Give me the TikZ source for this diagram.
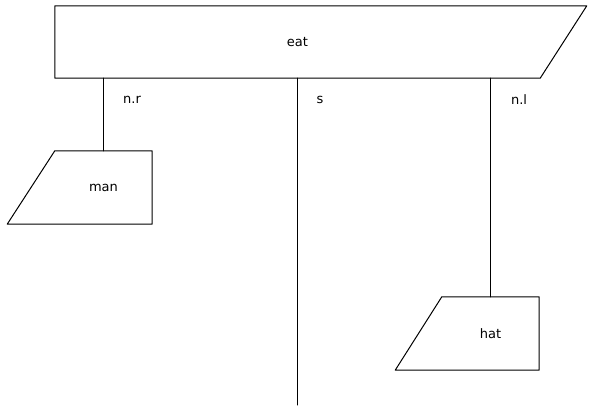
\documentclass[tikz,border=0pt]{standalone}
\usepackage{fontspec}
\setmainfont{DejaVu Sans}
\usetikzlibrary{positioning}

\begin{document}
\begin{tikzpicture}[line cap=round,line join=round,x=1pt,y=-1pt,
	box/.style={inner sep=0pt,minimum width=97pt,minimum height=73pt},
	lbl/.style={inner sep=0pt,font=\fontsize{13}{15}\selectfont}]
	\useasboundingbox (0,0) rectangle (594,411);
	% word nodes
	\node[box,minimum width=485pt,minimum height=72pt,lbl] (eat) at (297.5,42) {eat};
	\node[box,lbl] (man) at (103.5,187.5) {man};
	\node[box,lbl] (hat) at (490.5,333.5) {hat};
	\draw [line width=1pt] (eat.south east) -- (eat.south west) -- (eat.north west) -- ++(532,0) -- cycle;
	\draw [line width=1pt] (man.north west) -- (man.north east) -- (man.south east) -- ++(-145,0) -- cycle;
	\draw [line width=1pt] (hat.north west) -- (hat.north east) -- (hat.south east) -- ++(-144,0) -- cycle;
	% links
	\coordinate (send) at (297.5,405);
	\draw [line width=1pt] (man.north) -- (man.north |- eat.south);
	\draw [line width=1pt] (eat.south) -- (send);
	\draw [line width=1pt] (hat.north) -- (hat.north |- eat.south);
	\node[lbl] (nr) at (132,100) {n.r};
	\node[lbl] (s) at (320,100) {s};
	\node[lbl] (nl) at (519,100) {n.l};
\end{tikzpicture}
\end{document}
